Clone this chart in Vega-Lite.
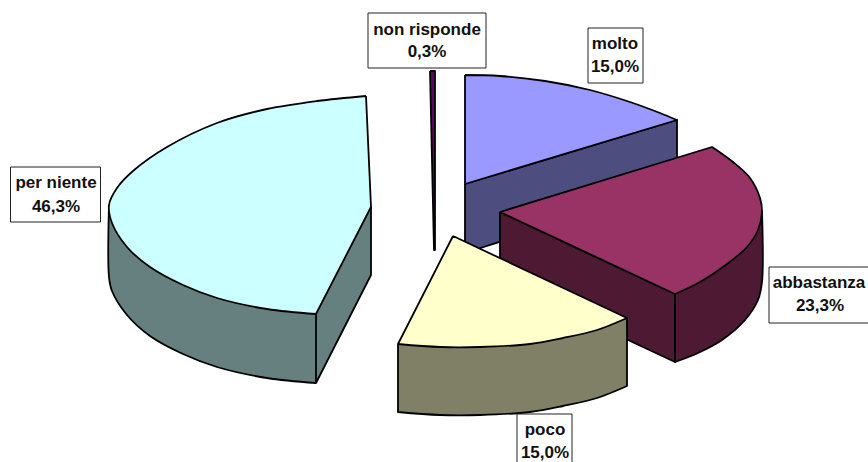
{"$schema":"https://vega.github.io/schema/vega-lite/v6.json","width":868,"height":462,"autosize":{"type":"fit","contains":"padding"},"padding":0,"background":"white","config":{"view":{"stroke":null}},
"layer":[
{"data":{"values":[
{"p":"molto lato","i":0,"x":465,"y":184},{"p":"molto lato","i":1,"x":465,"y":184},{"p":"molto lato","i":2,"x":677,"y":120},{"p":"molto lato","i":3,"x":677,"y":120},{"p":"molto lato","i":4,"x":677,"y":185},{"p":"molto lato","i":5,"x":677,"y":185},{"p":"molto lato","i":6,"x":465,"y":253},{"p":"molto lato","i":7,"x":465,"y":253},{"p":"molto lato","i":8,"x":465,"y":184},{"p":"molto lato","i":9,"x":465,"y":184},
{"p":"molto","i":0,"x":465,"y":75},{"p":"molto","i":1,"x":465,"y":75},{"p":"molto","i":2,"x":500,"y":76},{"p":"molto","i":3,"x":545,"y":81},{"p":"molto","i":4,"x":590,"y":90},{"p":"molto","i":5,"x":630,"y":102},{"p":"molto","i":6,"x":660,"y":113},{"p":"molto","i":7,"x":677,"y":120},{"p":"molto","i":8,"x":677,"y":120},{"p":"molto","i":9,"x":465,"y":184},{"p":"molto","i":10,"x":465,"y":184},{"p":"molto","i":11,"x":465,"y":75},{"p":"molto","i":12,"x":465,"y":75},
{"p":"non risponde","i":0,"x":430,"y":71},{"p":"non risponde","i":1,"x":430,"y":71},{"p":"non risponde","i":2,"x":435,"y":71},{"p":"non risponde","i":3,"x":435,"y":71},{"p":"non risponde","i":4,"x":435,"y":250},{"p":"non risponde","i":5,"x":435,"y":250},{"p":"non risponde","i":6,"x":434,"y":250},{"p":"non risponde","i":7,"x":434,"y":250},{"p":"non risponde","i":8,"x":430,"y":71},{"p":"non risponde","i":9,"x":430,"y":71},
{"p":"per niente lato","i":0,"x":109,"y":205},{"p":"per niente lato","i":1,"x":109,"y":205},{"p":"per niente lato","i":2,"x":109,"y":277},{"p":"per niente lato","i":3,"x":112,"y":291},{"p":"per niente lato","i":4,"x":127,"y":315},{"p":"per niente lato","i":5,"x":150,"y":336},{"p":"per niente lato","i":6,"x":183,"y":354},{"p":"per niente lato","i":7,"x":217,"y":367},{"p":"per niente lato","i":8,"x":267,"y":378},{"p":"per niente lato","i":9,"x":316,"y":383},{"p":"per niente lato","i":10,"x":316,"y":383},{"p":"per niente lato","i":11,"x":371,"y":275},{"p":"per niente lato","i":12,"x":371,"y":275},{"p":"per niente lato","i":13,"x":371,"y":207},{"p":"per niente lato","i":14,"x":371,"y":207},{"p":"per niente lato","i":15,"x":109,"y":205},{"p":"per niente lato","i":16,"x":109,"y":205},
{"p":"per niente","i":0,"x":366,"y":96},{"p":"per niente","i":1,"x":366,"y":96},{"p":"per niente","i":2,"x":317,"y":101},{"p":"per niente","i":3,"x":267,"y":109},{"p":"per niente","i":4,"x":217,"y":123},{"p":"per niente","i":5,"x":167,"y":147},{"p":"per niente","i":6,"x":133,"y":171},{"p":"per niente","i":7,"x":117,"y":188},{"p":"per niente","i":8,"x":109,"y":205},{"p":"per niente","i":9,"x":112,"y":223},{"p":"per niente","i":10,"x":127,"y":247},{"p":"per niente","i":11,"x":150,"y":267},{"p":"per niente","i":12,"x":183,"y":285},{"p":"per niente","i":13,"x":217,"y":298},{"p":"per niente","i":14,"x":267,"y":309},{"p":"per niente","i":15,"x":316,"y":314},{"p":"per niente","i":16,"x":316,"y":314},{"p":"per niente","i":17,"x":371,"y":207},{"p":"per niente","i":18,"x":371,"y":207},{"p":"per niente","i":19,"x":366,"y":96},{"p":"per niente","i":20,"x":366,"y":96},
{"p":"spigolo","i":0,"x":316,"y":314},{"p":"spigolo","i":1,"x":316,"y":383},
{"p":"abbastanza fianco","i":0,"x":500,"y":212},{"p":"abbastanza fianco","i":1,"x":500,"y":212},{"p":"abbastanza fianco","i":2,"x":500,"y":280},{"p":"abbastanza fianco","i":3,"x":500,"y":280},{"p":"abbastanza fianco","i":4,"x":675,"y":362},{"p":"abbastanza fianco","i":5,"x":675,"y":362},{"p":"abbastanza fianco","i":6,"x":675,"y":294},{"p":"abbastanza fianco","i":7,"x":675,"y":294},{"p":"abbastanza fianco","i":8,"x":500,"y":212},{"p":"abbastanza fianco","i":9,"x":500,"y":212},
{"p":"abbastanza lato","i":0,"x":675,"y":294},{"p":"abbastanza lato","i":1,"x":675,"y":294},{"p":"abbastanza lato","i":2,"x":675,"y":362},{"p":"abbastanza lato","i":3,"x":675,"y":362},{"p":"abbastanza lato","i":4,"x":698,"y":353},{"p":"abbastanza lato","i":5,"x":722,"y":340},{"p":"abbastanza lato","i":6,"x":745,"y":320},{"p":"abbastanza lato","i":7,"x":758,"y":300},{"p":"abbastanza lato","i":8,"x":762,"y":282},{"p":"abbastanza lato","i":9,"x":762,"y":212},{"p":"abbastanza lato","i":10,"x":762,"y":212},{"p":"abbastanza lato","i":11,"x":675,"y":294},{"p":"abbastanza lato","i":12,"x":675,"y":294},
{"p":"abbastanza","i":0,"x":500,"y":212},{"p":"abbastanza","i":1,"x":500,"y":212},{"p":"abbastanza","i":2,"x":712,"y":147},{"p":"abbastanza","i":3,"x":712,"y":147},{"p":"abbastanza","i":4,"x":733,"y":162},{"p":"abbastanza","i":5,"x":750,"y":178},{"p":"abbastanza","i":6,"x":760,"y":198},{"p":"abbastanza","i":7,"x":762,"y":212},{"p":"abbastanza","i":8,"x":758,"y":230},{"p":"abbastanza","i":9,"x":747,"y":247},{"p":"abbastanza","i":10,"x":727,"y":264},{"p":"abbastanza","i":11,"x":700,"y":282},{"p":"abbastanza","i":12,"x":675,"y":294},{"p":"abbastanza","i":13,"x":675,"y":294},{"p":"abbastanza","i":14,"x":500,"y":212},{"p":"abbastanza","i":15,"x":500,"y":212},
{"p":"poco lato","i":0,"x":398,"y":344},{"p":"poco lato","i":1,"x":398,"y":344},{"p":"poco lato","i":2,"x":398,"y":412},{"p":"poco lato","i":3,"x":398,"y":412},{"p":"poco lato","i":4,"x":440,"y":415},{"p":"poco lato","i":5,"x":480,"y":415},{"p":"poco lato","i":6,"x":530,"y":412},{"p":"poco lato","i":7,"x":563,"y":406},{"p":"poco lato","i":8,"x":597,"y":398},{"p":"poco lato","i":9,"x":627,"y":386},{"p":"poco lato","i":10,"x":627,"y":386},{"p":"poco lato","i":11,"x":627,"y":318},{"p":"poco lato","i":12,"x":627,"y":318},{"p":"poco lato","i":13,"x":398,"y":344},{"p":"poco lato","i":14,"x":398,"y":344},
{"p":"poco","i":0,"x":453,"y":236},{"p":"poco","i":1,"x":453,"y":236},{"p":"poco","i":2,"x":627,"y":318},{"p":"poco","i":3,"x":627,"y":318},{"p":"poco","i":4,"x":597,"y":330},{"p":"poco","i":5,"x":563,"y":338},{"p":"poco","i":6,"x":530,"y":344},{"p":"poco","i":7,"x":480,"y":347},{"p":"poco","i":8,"x":440,"y":347},{"p":"poco","i":9,"x":398,"y":344},{"p":"poco","i":10,"x":398,"y":344},{"p":"poco","i":11,"x":453,"y":236},{"p":"poco","i":12,"x":453,"y":236}
]},
"mark":{"type":"line","interpolate":"catmull-rom","stroke":"black","strokeWidth":1.8,"strokeJoin":"round","clip":true},
"encoding":{
"x":{"field":"x","type":"quantitative","scale":{"domain":[0,868],"nice":false,"zero":false},"axis":null},
"y":{"field":"y","type":"quantitative","scale":{"domain":[462,0],"nice":false,"zero":false},"axis":null},
"order":{"field":"i","type":"quantitative"},
"fill":{"field":"p","type":"nominal","legend":null,"sort":null,"scale":{"domain":["molto lato","molto","non risponde","per niente lato","per niente","spigolo","abbastanza fianco","abbastanza lato","abbastanza","poco lato","poco"],"range":["#4D4D80","#9999FF","#660066","#668080","#CCFFFF","#668080","#4D1933","#4D1933","#993366","#808066","#FFFFCC"]}}
}},
{"data":{"values":[
{"x":368,"x2":486,"y":13,"y2":68},
{"x":588,"x2":643,"y":28,"y2":83},
{"x":769,"x2":880,"y":267,"y2":323},
{"x":517,"x2":572,"y":414,"y2":480},
{"x":10.5,"x2":100.5,"y":167,"y2":222}
]},
"mark":{"type":"rect","fill":"white","stroke":"#222222","strokeWidth":1,"clip":true},
"encoding":{"x":{"field":"x","type":"quantitative","axis":null},"x2":{"field":"x2"},"y":{"field":"y","type":"quantitative","axis":null},"y2":{"field":"y2"}}},
{"data":{"values":[
{"t":"non risponde","x":427,"y":30},{"t":"0,3%","x":427,"y":52},
{"t":"molto","x":615,"y":44},{"t":"15,0%","x":615,"y":67},
{"t":"abbastanza","x":819,"y":283},{"t":"23,3%","x":820,"y":306},
{"t":"poco","x":545,"y":430},{"t":"15,0%","x":545,"y":453},
{"t":"per niente","x":56,"y":183},{"t":"46,3%","x":56,"y":207}
]},
"mark":{"type":"text","font":"Liberation Sans","fontWeight":"bold","fontSize":17,"color":"#111111","align":"center","baseline":"middle"},
"encoding":{"x":{"field":"x","type":"quantitative","axis":null},"y":{"field":"y","type":"quantitative","axis":null},"text":{"field":"t","type":"nominal"}}}
]}
